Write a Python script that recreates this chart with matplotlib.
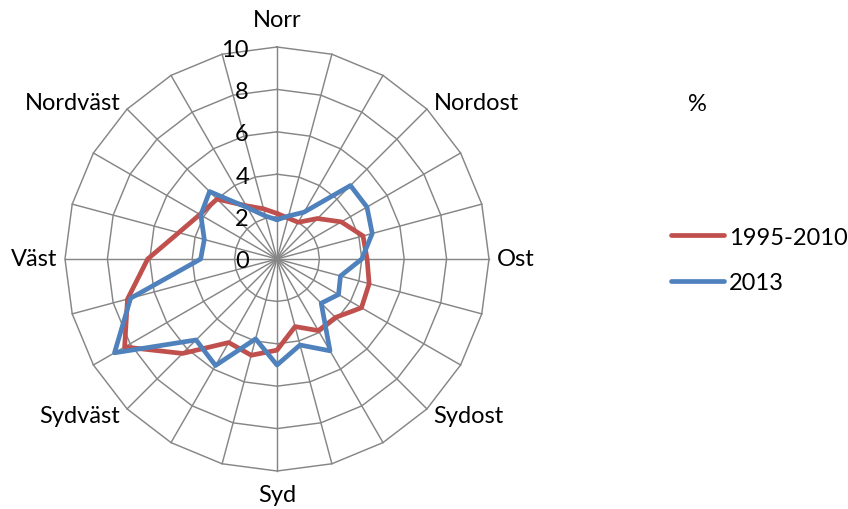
import numpy as np
import matplotlib
matplotlib.use("Agg")
import matplotlib.pyplot as plt
from matplotlib.lines import Line2D

# 24 compass sectors, clockwise from north; only every third one is named
directions = ["Norr", "", "", "Nordost", "", "", "Ost", "", "", "Sydost", "", "",
              "Syd", "", "", "Sydväst", "", "", "Väst", "", "", "Nordväst", "", ""]

# share of wind per sector (%)
period_1995_2010 = [2.15, 2.0, 2.0, 2.7, 3.5, 4.2, 4.25, 4.5, 4.6, 3.9, 3.9, 3.3,
                    4.3, 4.7, 4.55, 6.3, 8.3, 7.3, 6.1, 4.8, 4.2, 4.0, 2.9, 2.45]
year_2013 = [1.85, 2.1, 2.55, 4.9, 4.9, 4.65, 4.0, 3.1, 3.35, 2.95, 5.0, 4.2,
             5.0, 3.9, 5.8, 5.4, 8.85, 7.15, 3.6, 3.55, 4.15, 4.5, 2.8, 2.1]

series_labels = ["1995-2010", "2013"]
ring_values = [0, 2, 4, 6, 8, 10]
unit_label = "%"

RED = "#C0504D"
BLUE = "#4F81BD"
GRID = "#868686"
FS = 17

plt.rcParams["font.family"] = ["Lato", "DejaVu Sans"]

W, H = 848, 510
fig = plt.figure(figsize=(W / 100, H / 100), dpi=100)

cx, cy, R = 277, 260, 212  # centre and outer radius in pixels
ax = fig.add_axes([(cx - R) / W, (H - cy - R) / H, 2 * R / W, 2 * R / H],
                  projection="polar")
ax.set_theta_zero_location("N")
ax.set_theta_direction(-1)
ax.set_ylim(0, ring_values[-1])
ax.grid(False)
ax.spines["polar"].set_visible(False)
ax.set_xticks([])
ax.set_yticks([])
ax.patch.set_alpha(0)

n = len(directions)
theta = np.deg2rad(np.arange(n) * 360.0 / n)
closed = np.append(theta, theta[0])

# polygonal web
for r in ring_values[1:]:
    ax.plot(closed, [r] * (n + 1), color=GRID, lw=1.05, zorder=1, clip_on=False)
for t in theta:
    ax.plot([t, t], [0, ring_values[-1]], color=GRID, lw=1.05, zorder=1, clip_on=False)

# value scale along the north spoke
for r in ring_values:
    ax.annotate(str(r), xy=(0, r), xytext=(-28, -2), textcoords="offset pixels",
                ha="right", va="center", fontsize=FS, color="black")

# sector names
label_place = {
    0: (11.3, "center"), 45: (10.45, "left"), 90: (10.35, "left"),
    135: (10.45, "left"), 180: (11.1, "center"), 225: (10.45, "right"),
    270: (10.35, "right"), 315: (10.45, "right"),
}
for i, name in enumerate(directions):
    if not name:
        continue
    deg = i * 360 / n
    r, ha = label_place[int(round(deg))]
    ax.text(np.deg2rad(deg), r, name, ha=ha, va="center", fontsize=FS,
            color="black", clip_on=False)

# data series
for vals, col in ((period_1995_2010, RED), (year_2013, BLUE)):
    v = np.append(vals, vals[0])
    ax.plot(closed, v, color=col, lw=3.4, solid_joinstyle="round",
            solid_capstyle="round", zorder=3, clip_on=False)

fig.text(697 / W, 1 - 105 / H, unit_label, ha="center", va="center", fontsize=FS)

handles = [Line2D([], [], color=RED, lw=3.4, solid_capstyle="round"),
           Line2D([], [], color=BLUE, lw=3.4, solid_capstyle="round")]
fig.legend(handles, series_labels, loc="center left",
           bbox_to_anchor=(671 / W, 1 - 261 / H), frameon=False, fontsize=FS,
           handlelength=2.25, handletextpad=0.22, labelspacing=1.05,
           borderaxespad=0, borderpad=0)

fig.savefig("out.png", dpi=100)
